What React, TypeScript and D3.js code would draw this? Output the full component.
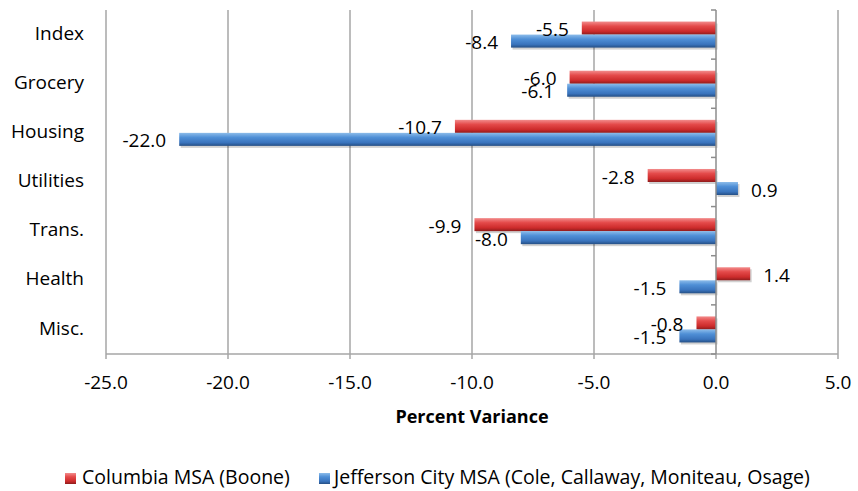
import * as d3 from "d3";

const categories = ["Index", "Grocery", "Housing", "Utilities", "Trans.", "Health", "Misc."];
const columbia = [-5.5, -6.0, -10.7, -2.8, -9.9, 1.4, -0.8];
const jefferson = [-8.4, -6.1, -22.0, 0.9, -8.0, -1.5, -1.5];
const seriesNames = ["Columbia MSA (Boone)", "Jefferson City MSA (Cole, Callaway, Moniteau, Osage)"];
const xTicks = [-25, -20, -15, -10, -5, 0, 5];

const W = 858;
const H = 491;
const margin = { top: 10, right: 20, bottom: 137, left: 106 };
const font = "'Open Sans', sans-serif";

export default function App() {
  const x = d3.scaleLinear().domain([-25, 5]).range([margin.left, W - margin.right]);
  const y = d3.scaleBand().domain(categories).range([margin.top, H - margin.bottom]).paddingInner(0.47).paddingOuter(0.235);
  const step = y.step();
  const bandTop = (c: string) => margin.top + categories.indexOf(c) * step;
  const inner = d3.scaleBand().domain(["0", "1"]).range([0, y.bandwidth()]);
  const series = [columbia, jefferson];
  const grads = ["redGrad", "blueGrad"];
  const plotBottom = H - margin.bottom;

  return (
    <svg width={W} height={H} style={{ position: "absolute", left: 0, top: 0, background: "#fff" }} fontFamily={font}>
      <defs>
        <linearGradient id="redGrad" x1="0" y1="0" x2="0" y2="1">
          <stop offset="0" stopColor="#f28c8c" />
          <stop offset="0.35" stopColor="#e44a4a" />
          <stop offset="0.75" stopColor="#cc2b2b" />
          <stop offset="1" stopColor="#8e1c1c" />
        </linearGradient>
        <linearGradient id="blueGrad" x1="0" y1="0" x2="0" y2="1">
          <stop offset="0" stopColor="#8cbcea" />
          <stop offset="0.35" stopColor="#4f8fd6" />
          <stop offset="0.75" stopColor="#3a74bd" />
          <stop offset="1" stopColor="#254f85" />
        </linearGradient>
      </defs>
      {xTicks.map((t) => (
        <g key={t}>
          {t !== 0 && <line x1={x(t)} x2={x(t)} y1={margin.top} y2={plotBottom} stroke="#a6a6a6" strokeWidth={1.5} />}
          <line x1={x(t)} x2={x(t)} y1={plotBottom} y2={plotBottom + 5} stroke="#a6a6a6" strokeWidth={1.5} />
          <text x={x(t)} y={plotBottom + 35} textAnchor="middle" fontSize={19} fill="#000">{t.toFixed(1)}</text>
        </g>
      ))}
      <line x1={margin.left} x2={W - margin.right} y1={plotBottom} y2={plotBottom} stroke="#a6a6a6" strokeWidth={1.5} />
      {series.map((vals, s) =>
        categories.map((c, i) => {
          const v = vals[i];
          const y0 = (y(c) as number) + (inner(String(s)) as number);
          const h = inner.bandwidth();
          const x0 = Math.min(x(0), x(v));
          const w = Math.abs(x(v) - x(0));
          return (
            <g key={`${s}-${c}`}>
              <rect x={x0 + 1.5} y={y0 + 2} width={w} height={h} fill="#000" opacity={0.18} />
              <rect x={x0} y={y0} width={w} height={h} fill={`url(#${grads[s]})`} />
            </g>
          );
        })
      )}
      {series.map((vals, s) =>
        categories.map((c, i) => {
          const v = vals[i];
          const cy = (y(c) as number) + (inner(String(s)) as number) + inner.bandwidth() / 2 + 3;
          return (
            <text
              key={`l-${s}-${c}`}
              x={v < 0 ? x(v) - 13 : x(v) + 13}
              y={cy}
              dominantBaseline="middle"
              textAnchor={v < 0 ? "end" : "start"}
              fontSize={19}
              fill="#000"
            >
              {v.toFixed(1)}
            </text>
          );
        })
      )}
      <line x1={x(0)} x2={x(0)} y1={margin.top} y2={plotBottom} stroke="#8c8c8c" strokeWidth={1.5} />
      {d3.range(categories.length + 1).map((i) => (
        <line key={i} x1={x(0) - 5} x2={x(0)} y1={margin.top + i * step} y2={margin.top + i * step} stroke="#8c8c8c" strokeWidth={1.5} />
      ))}
      {categories.map((c) => (
        <text key={c} x={margin.left - 22} y={bandTop(c) + step / 2} dominantBaseline="middle" textAnchor="end" fontSize={19} fill="#000">
          {c}
        </text>
      ))}
      <text x={(x(-25) + x(5)) / 2} y={plotBottom + 69} textAnchor="middle" fontSize={18} fontWeight="bold" fill="#000">
        Percent Variance
      </text>
      <g transform={`translate(65, ${479})`}>
        <rect x={0} y={-6} width={11} height={11} fill="url(#redGrad)" />
        <text x={17} y={0} dominantBaseline="middle" fontSize={19.5} fill="#000">{seriesNames[0]}</text>
        <rect x={254} y={-6} width={11} height={11} fill="url(#blueGrad)" />
        <text x={269} y={0} dominantBaseline="middle" fontSize={19.5} fill="#000">{seriesNames[1]}</text>
      </g>
    </svg>
  );
}
